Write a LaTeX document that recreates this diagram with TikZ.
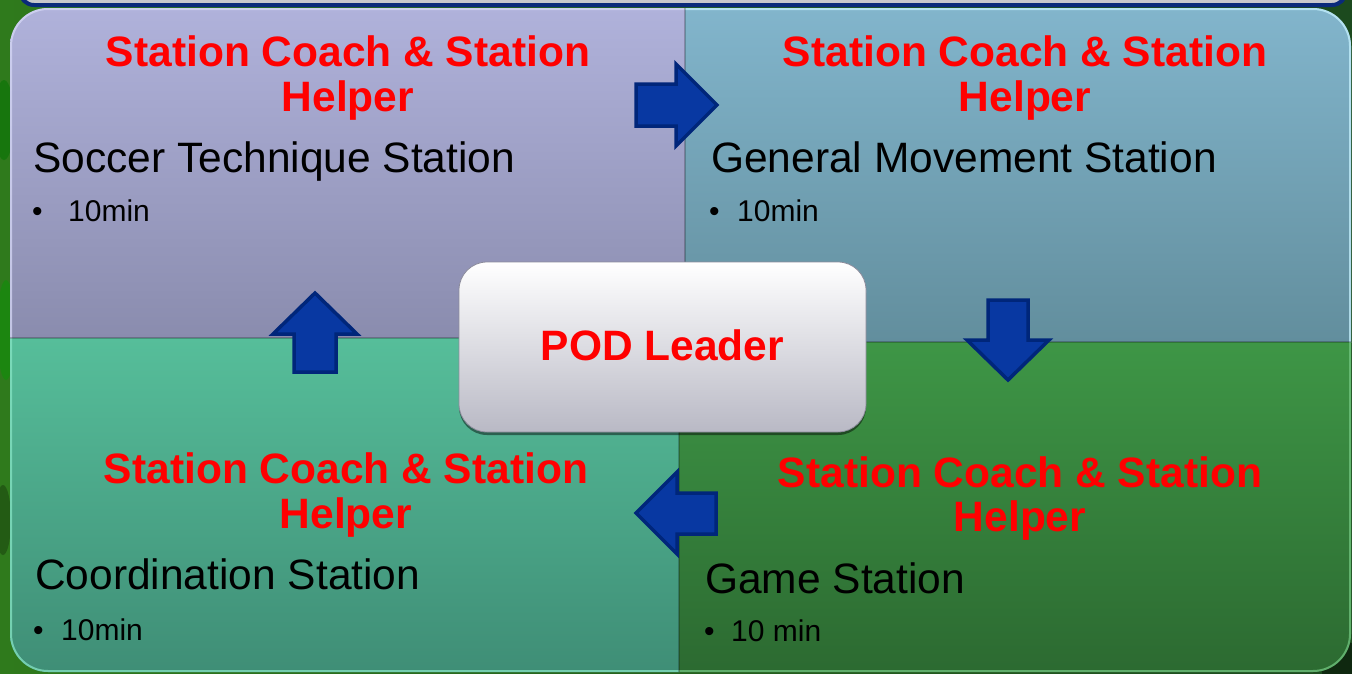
\documentclass[tikz,border=0pt]{standalone}
\usepackage{fontspec}
\setmainfont{Liberation Sans}
\usetikzlibrary{shadows}

\definecolor{grassA}{HTML}{2F7A1C}
\definecolor{grassB}{HTML}{1C4A1E}
\definecolor{titlegray}{HTML}{C8C8CC}
\definecolor{titlenavy}{HTML}{0A2A7A}
\definecolor{tlA}{HTML}{B0B2DB}
\definecolor{tlB}{HTML}{8A8CAE}
\definecolor{tlRim}{HTML}{D6D8F6}
\definecolor{trA}{HTML}{82B5CC}
\definecolor{trB}{HTML}{628E9D}
\definecolor{trRim}{HTML}{C6F2FF}
\definecolor{blA}{HTML}{56BE9A}
\definecolor{blB}{HTML}{3F8E76}
\definecolor{blRim}{HTML}{86E4C4}
\definecolor{brA}{HTML}{3E9646}
\definecolor{brB}{HTML}{2C6A31}
\definecolor{brRim}{HTML}{72C680}
\definecolor{arrowblue}{HTML}{0838A2}
\definecolor{arrowedge}{HTML}{00267A}
\definecolor{podA}{HTML}{E2E4EF}
\definecolor{podB}{HTML}{B9B9C5}
\definecolor{podEdge}{HTML}{8C8C9C}
\definecolor{headred}{HTML}{FF0000}

\begin{document}
\begin{tikzpicture}[x=1pt,y=-1pt,
  heading/.style={text=headred, font=\fontsize{42.5}{46}\selectfont\bfseries, inner sep=0pt, anchor=base},
  body/.style={text=black, font=\fontsize{42.5}{46}\selectfont, inner sep=0pt, anchor=base west},
  bulletline/.style={text=black, font=\fontsize{30}{34}\selectfont, inner sep=0pt, anchor=base west},
  flow/.style={fill=arrowblue, draw=arrowedge, line width=3.5pt, line join=miter},
  divider/.style={black, opacity=0.22, line width=1.5pt},
  rim/.style={line width=4pt, opacity=0.75, rounded corners=38pt},
  pod/.style={rounded corners=28pt, minimum width=407pt, minimum height=170pt,
    top color=white, middle color=podA, bottom color=podB, draw=podEdge, line width=0.8pt,
    text=headred, font=\fontsize{42.5}{46}\selectfont\bfseries, text depth=4pt,
    drop shadow={shadow xshift=0pt, shadow yshift=-3pt, opacity=0.45, fill=black}},
]
\useasboundingbox (0,0) rectangle (1352,673);

% grass background
\shade[left color=grassA, right color=grassB] (0,0) rectangle (1352,673);
\fill[green!45!black, opacity=0.5] (4,120) ellipse (10 and 40);
\fill[green!60!black, opacity=0.4] (6,330) ellipse (9 and 50);
\fill[black, opacity=0.25] (3,520) ellipse (8 and 35);
\fill[black, opacity=0.45] (1352,673) circle (30);

% title bar above the quadrants
\draw[fill=titlegray, draw=titlenavy, line width=4pt, rounded corners=14pt] (20,-40) rectangle (1346,5);

% four station quadrants
\begin{scope}
  \clip[rounded corners=38pt] (10,8) rectangle (1351,672);
  \shade[top color=tlA, bottom color=tlB] (10,8) rectangle (685,338);
  \shade[top color=trA, bottom color=trB] (685,8) rectangle (1351,342);
  \shade[top color=blA, bottom color=blB] (10,338) rectangle (679,672);
  \shade[top color=brA, bottom color=brB] (679,342) rectangle (1351,672);
  % bevelled rims
  \begin{scope}\clip (10,8) rectangle (685,338);
    \draw[rim, tlRim] (10,8) rectangle (1351,672);\end{scope}
  \begin{scope}\clip (685,8) rectangle (1351,342);
    \draw[rim, trRim] (10,8) rectangle (1351,672);\end{scope}
  \begin{scope}\clip (10,338) rectangle (679,672);
    \draw[rim, blRim] (10,8) rectangle (1351,672);\end{scope}
  \begin{scope}\clip (679,342) rectangle (1351,672);
    \draw[rim, brRim] (10,8) rectangle (1351,672);\end{scope}
  % seams between quadrants
  \draw[divider] (685,8) -- (685,342);
  \draw[divider] (10,338) -- (679,338);
  \draw[divider] (679,338) -- (679,672);
  \draw[divider] (685,342) -- (1351,342);
\end{scope}

% rotation arrows
\draw[flow] (636,84) -- (676,84) -- (676,64) -- (717,105) -- (676,146) -- (676,126) -- (636,126) -- cycle;
\draw[flow] (988,300) -- (1028,300) -- (1028,340) -- (1049,340) -- (1008,380) -- (967,340) -- (988,340) -- cycle;
\draw[flow] (716,493) -- (677,493) -- (677,472) -- (636,513) -- (677,554) -- (677,534) -- (716,534) -- cycle;
\draw[flow] (294,372) -- (294,334) -- (273,334) -- (315,293) -- (357,334) -- (336,334) -- (336,372) -- cycle;

% top-left station
\node[heading] (tlh1) at (348,66) {Station Coach \& Station};
\node[heading] (tlh2) at (348,111) {Helper};
\node[body] (tlb) at (33,172) {Soccer Technique Station};
\node[bulletline] (tlt) at (32,221) {\makebox[36pt][l]{•}10min};

% top-right station
\node[heading] (trh1) at (1025,66) {Station Coach \& Station};
\node[heading] (trh2) at (1025,111) {Helper};
\node[body] (trb) at (711,172) {General Movement Station};
\node[bulletline] (trt) at (709,221) {\makebox[28pt][l]{•}10min};

% bottom-left station
\node[heading] (blh1) at (346,483) {Station Coach \& Station};
\node[heading] (blh2) at (346,528) {Helper};
\node[body] (blb) at (35,589) {Coordination Station};
\node[bulletline] (blt) at (33,640) {\makebox[28pt][l]{•}10min};

% bottom-right station
\node[heading] (brh1) at (1020,487) {Station Coach \& Station};
\node[heading] (brh2) at (1020,531) {Helper};
\node[body] (brb) at (705,593) {Game Station};
\node[bulletline] (brt) at (704,641) {\makebox[27pt][l]{•}10 min};

% centre
\node[pod] (pod) at (662.5,347) {POD Leader};
\end{tikzpicture}
\end{document}
